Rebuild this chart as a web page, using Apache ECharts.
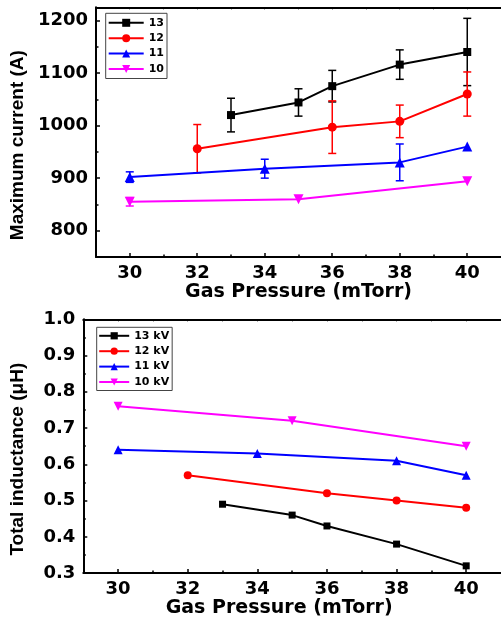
<!DOCTYPE html>
<html>
<head>
<meta charset="utf-8">
<script src="https://cdn.jsdelivr.net/npm/echarts@6/dist/echarts.min.js"></script>
<style>html,body{margin:0;padding:0;background:#fff;}#c{width:501px;height:619px;}</style>
</head>
<body>
<div id="c"></div>
<script>
// ---- Data: top panel (Maximum current, A) ----
const p13 = [33, 35, 36, 38, 40];
const i13 = [1020, 1044, 1075, 1116, 1140];
const e13 = [32, 26, 30, 28, 64];
const p12 = [32, 36, 38, 40];
const i12 = [956, 997, 1008, 1060];
const e12 = [46, 50, 31, 42];
const p11 = [30, 34, 38, 40];
const i11 = [902, 918, 930, 960];
const e11 = [10, 18, 35, 0];
const p10 = [30, 35, 40];
const i10 = [855, 860, 894];
const e10 = [8, 0, 0];

// ---- Data: bottom panel (Total inductance, uH) ----
const q13 = [33, 35, 36, 38, 40];
const L13 = [0.49, 0.46, 0.43, 0.38, 0.32];
const q12 = [32, 36, 38, 40];
const L12 = [0.57, 0.52, 0.50, 0.48];
const q11 = [30, 34, 38, 40];
const L11 = [0.64, 0.63, 0.61, 0.57];
const q10 = [30, 35, 40];
const L10 = [0.76, 0.72, 0.65];

// ---- Tick labels ----
const xMajor = [30, 32, 34, 36, 38, 40];
const xMinor = [31, 33, 35, 37, 39];
const yTopMajor = [800, 900, 1000, 1100, 1200];
const yTopMinor = [850, 950, 1050, 1150];
const yBotMajor = [0.3, 0.4, 0.5, 0.6, 0.7, 0.8, 0.9, 1.0];
const yBotMinor = [0.35, 0.45, 0.55, 0.65, 0.75, 0.85, 0.95];

const topNames = ['13', '12', '11', '10'];
const botNames = ['13 kV', '12 kV', '11 kV', '10 kV'];
const colors = ['#000000', '#ff0000', '#0000ff', '#ff00ff'];
const symbols = ['rect', 'circle', 'triangle', 'triangle'];
const symRot = [0, 0, 0, 180];
const symSize = [8, 9, 10, 10];

const FONT = 'DejaVu Sans';
const zip = (a, b) => a.map((v, k) => [v, b[k]]);

function errData(xs, ys, es) {
  const out = [];
  xs.forEach((x, k) => { if (es[k] > 0) out.push([x, ys[k] - es[k], ys[k] + es[k]]); });
  return out;
}

function errSeries(xs, ys, es, color) {
  return {
    type: 'custom', xAxisIndex: 0, yAxisIndex: 0, z: 1,
    data: errData(xs, ys, es),
    renderItem: function (params, api) {
      const x = api.value(0);
      const lo = api.coord([x, api.value(1)]);
      const hi = api.coord([x, api.value(2)]);
      const w = 4;
      const st = { stroke: color, lineWidth: 1.5 };
      return {
        type: 'group', children: [
          { type: 'line', shape: { x1: lo[0], y1: lo[1], x2: hi[0], y2: hi[1] }, style: st },
          { type: 'line', shape: { x1: lo[0] - w, y1: lo[1], x2: lo[0] + w, y2: lo[1] }, style: st },
          { type: 'line', shape: { x1: hi[0] - w, y1: hi[1], x2: hi[0] + w, y2: hi[1] }, style: st }
        ]
      };
    }
  };
}

function lineSeries(name, xs, ys, k, gi) {
  return {
    name: name, type: 'line', xAxisIndex: gi * 3, yAxisIndex: gi * 2, z: 3,
    data: zip(xs, ys),
    symbol: symbols[k], symbolRotate: symRot[k], symbolSize: symSize[k] - gi,
    lineStyle: { color: colors[k], width: 2 },
    itemStyle: { color: colors[k] },
    animation: false
  };
}

const tickLabel = { fontFamily: FONT, fontWeight: 'bold', fontSize: 18, color: '#000' };

function xAxes(gi, nameGap, namePad) {
  return [
    {
      type: 'value', gridIndex: gi, min: 29, max: 41, position: 'bottom',
      name: 'Gas Pressure (mTorr)', nameLocation: 'middle', nameGap: nameGap,
      nameTextStyle: { fontFamily: FONT, fontWeight: 'bold', fontSize: 19, color: '#000', padding: namePad },
      axisLine: { show: true, lineStyle: { color: '#000', width: 2 } },
      axisTick: { show: true, inside: true, length: 4, customValues: xMajor, lineStyle: { color: '#000', width: 1.5 } },
      axisLabel: Object.assign({ show: true, margin: 7, customValues: xMajor }, tickLabel),
      splitLine: { show: false }
    },
    {
      type: 'value', gridIndex: gi, min: 29, max: 41, position: 'bottom',
      axisLine: { show: false },
      axisTick: { show: true, inside: true, length: 2.5, customValues: xMinor, lineStyle: { color: '#000', width: 1.5 } },
      axisLabel: { show: false }, splitLine: { show: false }
    },
    {
      type: 'value', gridIndex: gi, min: 29, max: 41, position: 'top',
      axisLine: { show: true, lineStyle: { color: '#000', width: 2 } },
      axisTick: { show: true, inside: true, length: 2, customValues: xMajor.concat(xMinor), lineStyle: { color: '#000', width: 1 } },
      axisLabel: { show: false }, splitLine: { show: false }
    }
  ];
}

function yAxes(gi, min, max, major, minor, name, nameGap, fmt) {
  return [
    {
      type: 'value', gridIndex: gi, min: min, max: max, position: 'left',
      name: name, nameLocation: 'middle', nameGap: nameGap,
      nameTextStyle: { fontFamily: 'Liberation Sans', fontWeight: 'bold', fontSize: 19, color: '#000', padding: [0, 26, 0, 0] },
      axisLine: { show: true, lineStyle: { color: '#000', width: 2 } },
      axisTick: { show: true, inside: true, length: 4, customValues: major, lineStyle: { color: '#000', width: 1.5 } },
      axisLabel: Object.assign({ show: true, margin: 8, customValues: major, formatter: fmt }, tickLabel),
      splitLine: { show: false }
    },
    {
      type: 'value', gridIndex: gi, min: min, max: max, position: 'left',
      axisLine: { show: false },
      axisTick: { show: true, inside: true, length: 2.5, customValues: minor, lineStyle: { color: '#000', width: 1.5 } },
      axisLabel: { show: false }, splitLine: { show: false }
    }
  ];
}

const legendText = { fontFamily: FONT, fontWeight: 'bold', fontSize: 11, color: '#000', lineHeight: 10 };

const option = {
  animation: false,
  backgroundColor: '#fff',
  grid: [
    { left: 90.7, top: 7.3, width: 412.6, height: 249.7 },
    { left: 83.3, top: 319.3, width: 420, height: 254 }
  ],
  legend: [
    {
      data: topNames, orient: 'vertical', left: 105.7, top: 13.3,
      itemWidth: 35, itemHeight: 10, itemGap: 4.4,
      padding: [4, 3, 4, 2], borderColor: '#444', borderWidth: 1,
      textStyle: legendText, selectedMode: false
    },
    {
      data: botNames, orient: 'vertical', left: 96.7, top: 327.3,
      itemWidth: 30, itemHeight: 9, itemGap: 4.4,
      padding: [3, 3, 3, 1.5], borderColor: '#444', borderWidth: 1,
      textStyle: legendText, selectedMode: false
    }
  ],
  xAxis: xAxes(0, 22, [0, 0, 0, 0]).concat(xAxes(1, 18, [0, 26, 0, 0])),
  yAxis: yAxes(0, 750, 1225, yTopMajor, yTopMinor, 'Maximum current (A)', 57, v => String(v))
    .concat(yAxes(1, 0.3, 1.0, yBotMajor, yBotMinor, 'Total inductance (\u03bcH)', 56, v => v.toFixed(1))),
  series: [
    errSeries(p13, i13, e13, colors[0]),
    errSeries(p12, i12, e12, colors[1]),
    errSeries(p11, i11, e11, colors[2]),
    errSeries(p10, i10, e10, colors[3]),
    lineSeries(topNames[0], p13, i13, 0, 0),
    lineSeries(topNames[1], p12, i12, 1, 0),
    lineSeries(topNames[2], p11, i11, 2, 0),
    lineSeries(topNames[3], p10, i10, 3, 0),
    lineSeries(botNames[0], q13, L13, 0, 1),
    lineSeries(botNames[1], q12, L12, 1, 1),
    lineSeries(botNames[2], q11, L11, 2, 1),
    lineSeries(botNames[3], q10, L10, 3, 1)
  ]
};

const chart = echarts.init(document.getElementById('c'), null, { renderer: 'canvas' });
chart.setOption(option);
</script>
</body>
</html>
